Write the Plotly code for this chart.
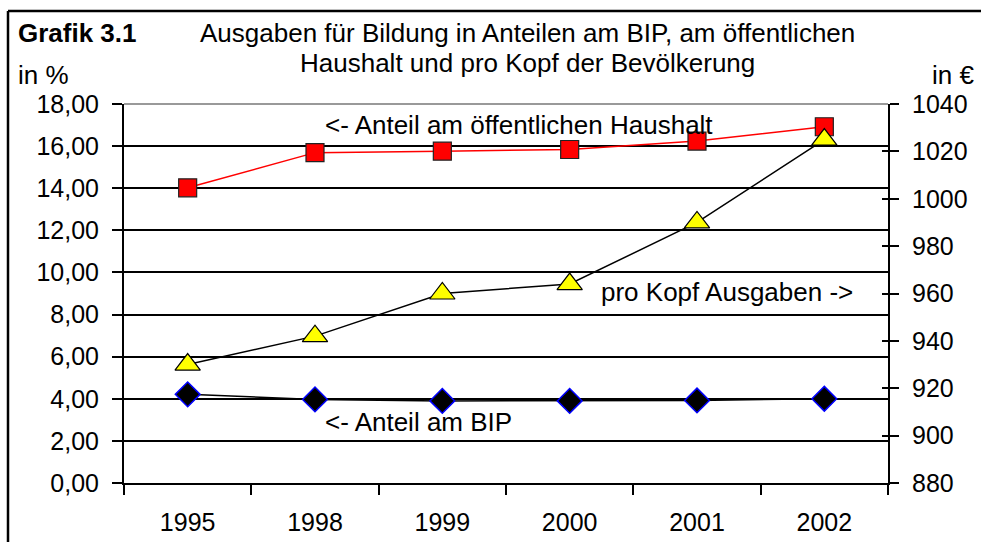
import plotly.graph_objects as go

years = ["1995", "1998", "1999", "2000", "2001", "2002"]
anteil_haushalt = [14.02, 15.69, 15.76, 15.84, 16.24, 16.92]
anteil_bip = [4.21, 3.97, 3.90, 3.90, 3.92, 4.00]
pro_kopf = [930, 942, 960, 964, 990, 1025]

FONT = "Liberation Sans, Arial, sans-serif"
TICK = 25
TXT = 26
fig = go.Figure()

fig.add_trace(go.Scatter(
    x=years, y=anteil_haushalt, mode="lines+markers", yaxis="y",
    line=dict(color="#ff0000", width=1.5),
    marker=dict(symbol="square", size=18, color="#ff0000", line=dict(color="#222222", width=1.2)),
    showlegend=False))
fig.add_trace(go.Scatter(
    x=years, y=anteil_bip, mode="lines+markers", yaxis="y",
    line=dict(color="#000000", width=1.5),
    marker=dict(symbol="diamond", size=19, color="#000000", line=dict(color="#0000ff", width=1.5)),
    showlegend=False))
fig.add_trace(go.Scatter(
    x=years, y=pro_kopf, mode="lines+markers", yaxis="y2",
    line=dict(color="#000000", width=1.5),
    marker=dict(symbol="triangle-up", size=22, color="#ffff00", line=dict(color="#000000", width=1.2)),
    showlegend=False))
# invisible trace so the inside tick marks of the right axis are drawn
fig.add_trace(go.Scatter(x=years, y=pro_kopf, yaxis="y3", mode="markers",
                         marker=dict(opacity=0), hoverinfo="skip", showlegend=False))

fig.update_layout(
    width=981, height=542,
    margin=dict(l=124, r=93, t=104, b=59, autoexpand=False),
    paper_bgcolor="white", plot_bgcolor="white",
    separators=",.",
    font=dict(family=FONT, size=TICK, color="#000000"),
    xaxis=dict(type="category", range=[-0.5, 5.5], tickson="boundaries",
               showline=True, linecolor="#000", linewidth=2, ticks="outside",
               ticklen=10, tickwidth=2, tickcolor="#000", showgrid=False,
               tickfont=dict(size=TICK), zeroline=False, ticklabelstandoff=16),
    yaxis=dict(range=[0, 18], dtick=2, tickformat=".2f", showline=True,
               linecolor="#000", linewidth=2, ticks="outside", ticklen=10,
               tickwidth=2, tickcolor="#000", showgrid=True, gridcolor="#000",
               gridwidth=2, zeroline=False, tickfont=dict(size=TICK),
               ticklabelstandoff=8),
    yaxis2=dict(range=[880, 1040], dtick=20, tickformat="d", overlaying="y",
                side="right", showline=True, linecolor="#000", linewidth=2,
                ticks="outside", ticklen=9, tickwidth=2, tickcolor="#000",
                showgrid=False, zeroline=False, tickfont=dict(size=TICK),
                ticklabelstandoff=8),
    yaxis3=dict(range=[880, 1040], dtick=20, overlaying="y", side="right",
                showline=False, ticks="inside", ticklen=6, tickwidth=2,
                tickcolor="#000", showticklabels=False, showgrid=False,
                zeroline=False),
)

def px_x(p):
    return (p - 124) / 764

def px_y(p):
    return (483 - p) / 379

frame = dict(color="#000", width=2.5)
shapes = [
    dict(type="line", xref="paper", yref="paper", x0=0, x1=1, y0=1, y1=1,
         line=dict(color="#999999", width=2), layer="above"),
    # outer frame: top and left edges
    dict(type="line", xref="paper", yref="paper", x0=px_x(8), x1=px_x(990),
         y0=px_y(11), y1=px_y(11), line=frame, layer="above"),
    dict(type="line", xref="paper", yref="paper", x0=px_x(8), x1=px_x(8),
         y0=px_y(11), y1=px_y(560), line=frame, layer="above"),
]
fig.update_layout(shapes=shapes)

ann = [
    dict(text="<b>Grafik 3.1</b>", x=px_x(16), y=px_y(33), xanchor="left", yanchor="middle"),
    dict(text="Ausgaben für Bildung in Anteilen am BIP, am öffentlichen",
         x=px_x(527), y=px_y(33), xanchor="center", yanchor="middle"),
    dict(text="Haushalt und pro Kopf der Bevölkerung",
         x=px_x(527), y=px_y(63), xanchor="center", yanchor="middle"),
    dict(text="in %", x=px_x(16), y=px_y(75), xanchor="left", yanchor="middle"),
    dict(text="in €", x=px_x(976), y=px_y(75), xanchor="right", yanchor="middle"),
    dict(text="<- Anteil am öffentlichen Haushalt", x=px_x(323), y=px_y(125), xanchor="left", yanchor="middle"),
    dict(text="pro Kopf Ausgaben ->", x=px_x(599), y=px_y(292), xanchor="left", yanchor="middle"),
    dict(text="<- Anteil am BIP", x=px_x(323), y=px_y(422), xanchor="left", yanchor="middle"),
]
for a in ann:
    a.update(xref="paper", yref="paper", showarrow=False,
             font=dict(family=FONT, size=TXT, color="#000"))
fig.update_layout(annotations=ann)

fig.write_html("out.html", config={"displayModeBar": False},
               post_script="document.body.style.margin='0';")
